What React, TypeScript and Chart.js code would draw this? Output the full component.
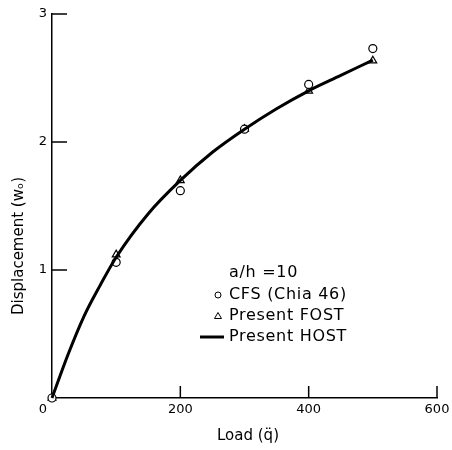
import React, { useEffect, useRef } from "react";
import { Chart, registerables } from "chart.js";

Chart.register(...registerables);

const loadCFS = [0, 100, 200, 300, 400, 500];
const dispCFS = [0, 1.06, 1.62, 2.1, 2.45, 2.73];
const loadFOST = [0, 100, 200, 300, 400, 500];
const dispFOST = [0, 1.12, 1.7, 2.1, 2.4, 2.635];
const loadHOST = [0, 25, 50, 75, 100, 150, 200, 250, 300, 350, 400, 450, 500];
const dispHOST = [0, 0.34, 0.64, 0.88, 1.1, 1.44, 1.7, 1.92, 2.1, 2.26, 2.4, 2.52, 2.64];
const xTicks = [200, 400, 600];
const yTicks = [0, 1, 2, 3];
const legendTitle = "a/h =10";
const legendLabels = ["CFS (Chia 46)", "Present FOST", "Present HOST"];
const xTitle = "Load (q\u0308)";
const yTitle = "Displacement (w\u2092)";

const FONT = "'DejaVu Sans', sans-serif";

const decorPlugin = {
  id: "decor",
  afterDraw(chart: any) {
    const ctx = chart.ctx;
    const xs = chart.scales.x;
    const ys = chart.scales.y;
    const x0 = xs.getPixelForValue(0);
    const y0 = ys.getPixelForValue(0);
    ctx.save();
    ctx.strokeStyle = "#000";
    ctx.fillStyle = "#000";
    ctx.lineWidth = 1.5;
    // inward ticks
    yTicks.forEach((v) => {
      if (v === 0) return;
      const py = ys.getPixelForValue(v);
      ctx.beginPath();
      ctx.moveTo(x0, py);
      ctx.lineTo(x0 + 15, py);
      ctx.stroke();
    });
    xTicks.forEach((v) => {
      const px = xs.getPixelForValue(v);
      ctx.beginPath();
      ctx.moveTo(px, y0);
      ctx.lineTo(px, y0 - 12);
      ctx.stroke();
    });
    // tick labels
    ctx.font = `13px ${FONT}`;
    ctx.textAlign = "right";
    ctx.textBaseline = "middle";
    yTicks.forEach((v) => {
      const py = ys.getPixelForValue(v);
      ctx.fillText(String(v), x0 - 5, v === 0 ? py + 12 : py);
    });
    ctx.textAlign = "center";
    xTicks.forEach((v) => {
      const px = xs.getPixelForValue(v);
      ctx.fillText(String(v), px, y0 + 12);
    });
    // axis titles
    ctx.font = `15px ${FONT}`;
    ctx.fillText(xTitle, 248, 436);
    ctx.save();
    ctx.translate(19, 246);
    ctx.rotate(-Math.PI / 2);
    ctx.fillText(yTitle, 0, 0);
    ctx.restore();
    // legend
    ctx.font = `16px ${FONT}`;
    ctx.textAlign = "left";
    (ctx as any).letterSpacing = "0.7px";
    ctx.fillText(legendTitle, 229, 273);
    ctx.fillText(legendLabels[0], 229, 295);
    ctx.fillText(legendLabels[1], 229, 316);
    ctx.fillText(legendLabels[2], 229, 337);
    (ctx as any).letterSpacing = "0px";
    ctx.lineWidth = 1;
    ctx.beginPath();
    ctx.arc(218, 295, 3, 0, Math.PI * 2);
    ctx.stroke();
    ctx.beginPath();
    ctx.moveTo(218, 312.5);
    ctx.lineTo(221.5, 318.5);
    ctx.lineTo(214.5, 318.5);
    ctx.closePath();
    ctx.stroke();
    ctx.lineWidth = 3;
    ctx.beginPath();
    ctx.moveTo(200, 337);
    ctx.lineTo(224, 337);
    ctx.stroke();
    ctx.restore();
  },
};

export default function App() {
  const ref = useRef<HTMLCanvasElement>(null);
  useEffect(() => {
    if (!ref.current) return;
    const chart = new Chart(ref.current, {
      type: "scatter",
      data: {
        datasets: [
          {
            label: legendLabels[2],
            data: loadHOST.map((x, i) => ({ x, y: dispHOST[i] })),
            showLine: true,
            borderColor: "#000",
            borderWidth: 3,
            pointRadius: 0,
            cubicInterpolationMode: "monotone",
            clip: false,
          },
          {
            label: legendLabels[0],
            data: loadCFS.map((x, i) => ({ x, y: dispCFS[i] })),
            pointStyle: "circle",
            pointRadius: 4,
            pointBorderWidth: 1.2,
            pointBorderColor: "#000",
            pointBackgroundColor: "#fff",
            clip: false,
          },
          {
            label: legendLabels[1],
            data: loadFOST.map((x, i) => ({ x, y: dispFOST[i] })),
            pointStyle: "triangle",
            pointRadius: 4.5,
            pointBorderWidth: 1.2,
            pointBorderColor: "#000",
            pointBackgroundColor: "#fff",
            clip: false,
          },
        ],
      },
      options: {
        animation: false,
        responsive: false,
        devicePixelRatio: 1,
        layout: { padding: { left: 52, top: 14, right: 15, bottom: 52 } },
        plugins: { legend: { display: false }, tooltip: { enabled: false } },
        scales: {
          x: {
            type: "linear",
            min: 0,
            max: 600,
            grid: { display: false },
            border: { display: true, color: "#000", width: 1.5 },
            ticks: { display: false },
            afterFit: (s: any) => { s.height = 0; },
          },
          y: {
            type: "linear",
            min: 0,
            max: 3,
            grid: { display: false },
            border: { display: true, color: "#000", width: 1.5 },
            ticks: { display: false },
            afterFit: (s: any) => { s.width = 0; },
          },
        },
      },
      plugins: [decorPlugin],
    });
    return () => chart.destroy();
  }, []);
  return (
    <div style={{ position: "fixed", left: 0, top: 0, width: 452, height: 450, background: "#fff" }}>
      <canvas ref={ref} width={452} height={450} style={{ width: 452, height: 450 }} />
    </div>
  );
}
